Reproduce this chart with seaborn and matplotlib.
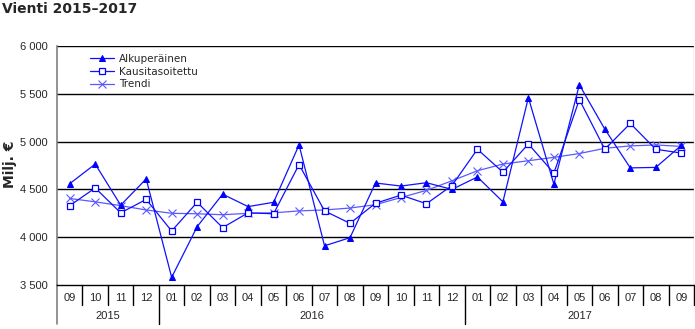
import matplotlib
matplotlib.use("Agg")
import matplotlib.pyplot as plt
import seaborn as sns
import pandas as pd
from matplotlib.ticker import FuncFormatter

months = ["09", "10", "11", "12", "01", "02", "03", "04", "05", "06", "07", "08",
          "09", "10", "11", "12", "01", "02", "03", "04", "05", "06", "07", "08", "09"]
years = ["2015", "2016", "2017"]
year_spans = [(0, 3), (4, 15), (16, 24)]

alkuperainen = [4560, 4765, 4335, 4610, 3580, 4110, 4450, 4320, 4365, 4965, 3910, 3995,
                4567, 4535, 4570, 4500, 4630, 4370, 5460, 4555, 5595, 5130, 4725, 4730, 4960]
kausitasoitettu = [4330, 4515, 4255, 4395, 4065, 4365, 4100, 4255, 4245, 4760, 4275, 4145,
                   4355, 4440, 4350, 4540, 4920, 4680, 4975, 4670, 5440, 4920, 5190, 4920, 4880]
trendi = [4405, 4370, 4330, 4285, 4250, 4245, 4235, 4250, 4255, 4275, 4285, 4305,
          4340, 4415, 4490, 4590, 4695, 4765, 4800, 4835, 4875, 4930, 4955, 4965, 4950]

idx = list(range(len(months)))
df = pd.DataFrame({"i": idx, "Alkuperäinen": alkuperainen,
                   "Kausitasoitettu": kausitasoitettu, "Trendi": trendi})

sns.set_style("white")
plt.rcParams["font.family"] = ["DejaVu Sans"]

W, H = 695, 329
fig = plt.figure(figsize=(W / 100, H / 100), dpi=100)
ax = fig.add_axes([57 / W, 1 - 285 / H, (694 - 57) / W, (285 - 46) / H])

sns.lineplot(data=df, x="i", y="Alkuperäinen", ax=ax, color="#1010ff", lw=0.9,
             marker="^", markersize=5, markerfacecolor="#0000ff",
             markeredgecolor="#0000ff", label="Alkuperäinen", zorder=4)
sns.lineplot(data=df, x="i", y="Kausitasoitettu", ax=ax, color="#1010ff", lw=0.9,
             marker="s", markersize=5, markerfacecolor="white",
             markeredgecolor="#0000ff", markeredgewidth=0.9,
             label="Kausitasoitettu", zorder=5)
sns.lineplot(data=df, x="i", y="Trendi", ax=ax, color="#5a5aff", lw=0.9,
             marker="x", markersize=6, markeredgecolor="#5a5aff",
             markeredgewidth=0.8, label="Trendi", zorder=3)

ax.set_xlim(-0.5, 24.5)
ax.set_ylim(3500, 6000)
ax.set_yticks([3500, 4000, 4500, 5000, 5500, 6000])
ax.yaxis.set_major_formatter(FuncFormatter(lambda v, p: f"{int(v):,}".replace(",", " ")))
for y in [4000, 4500, 5000, 5500, 6000]:
    ax.axhline(y, color="black", lw=1.0, zorder=1)

ax.tick_params(axis="y", length=5, width=0.8, color="black", direction="out",
               labelsize=8, pad=2)
for lab in ax.get_yticklabels():
    lab.set_fontfamily("Liberation Sans")

ax.set_xticks(idx)
ax.set_xticklabels(months, fontsize=8, fontfamily="Liberation Sans")
ax.tick_params(axis="x", length=0, pad=6)

for s in ["top", "right"]:
    ax.spines[s].set_visible(False)
ax.spines["left"].set_color("#808080")
ax.spines["left"].set_linewidth(1.2)
ax.spines["bottom"].set_color("black")
ax.spines["bottom"].set_linewidth(1.0)
ax.axvline(24.5, color="#c0c0c0", lw=1.0, zorder=1)

ax.set_xlabel("")
ax.set_ylabel("")
fig.text(10 / W, 1 - 164 / H, "Milj. €", rotation=90, fontsize=10,
         fontweight="bold", ha="center", va="center")

trans = ax.get_xaxis_transform()
ah = 285 - 46
month_len = -20 / ah
year_len = -39 / ah
year_bounds = {-0.5, 3.5, 15.5}
for b in [k + 0.5 for k in range(-1, 25)]:
    yl = year_len if b in year_bounds else month_len
    col = "#808080" if b == -0.5 else "black"
    ax.plot([b, b], [0, yl], transform=trans, color=col, lw=1.0 if b != -0.5 else 1.2,
            clip_on=False)
for yr, (a, b) in zip(years, year_spans):
    ax.text((a + b) / 2, -31 / ah, yr, transform=trans, ha="center", va="center",
            fontsize=8, fontfamily="Liberation Sans")

leg = ax.legend(loc="upper left", bbox_to_anchor=(90 / W, 1 - 54 / H),
                bbox_transform=fig.transFigure, frameon=False, fontsize=7.5,
                handlelength=2.3, handletextpad=0.5, labelspacing=0.25,
                borderpad=0, borderaxespad=0)

fig.text(2 / W, 1 - 9 / H, "Vienti 2015–2017", fontsize=10, fontweight="bold",
         ha="left", va="center")

fig.savefig("out.png", dpi=100)
